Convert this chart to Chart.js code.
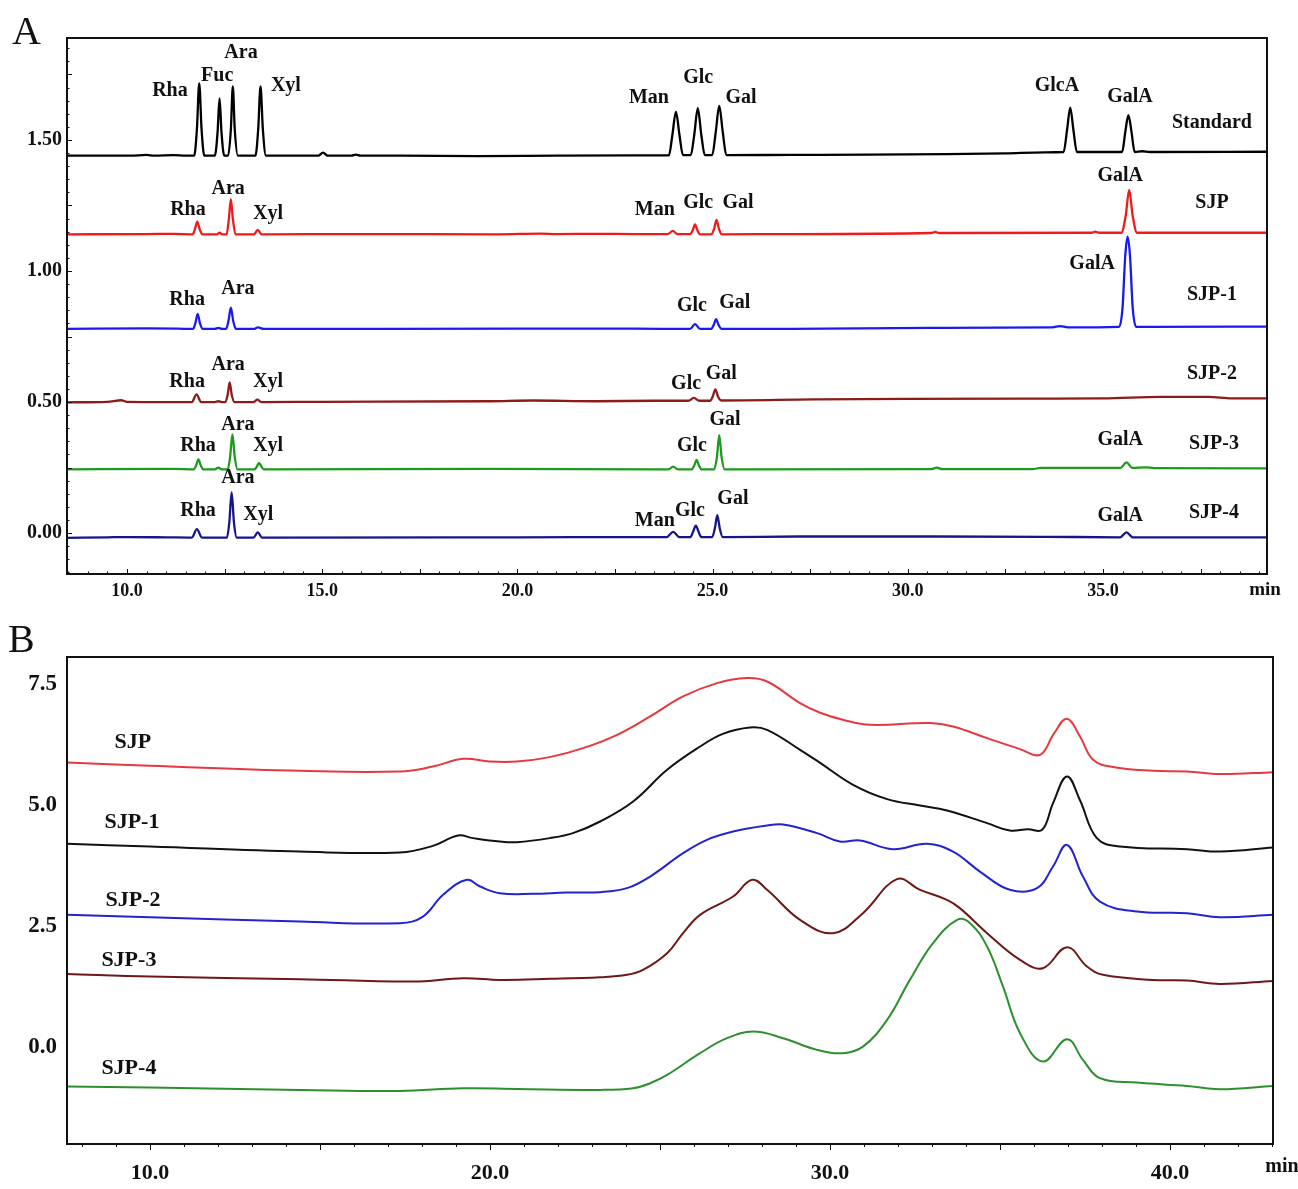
<!DOCTYPE html>
<html>
<head>
<meta charset="utf-8">
<title>Monosaccharide composition and molecular weight distribution</title>
<script src="https://cdn.jsdelivr.net/npm/chart.js@4.4.1/dist/chart.umd.min.js"></script>
<style>
  html, body { margin: 0; padding: 0; background: #ffffff; }
  #page { position: relative; width: 1298px; height: 1189px; overflow: hidden; background: #ffffff; }
  #page canvas { position: absolute; left: 0; }
  .panel-letter {
    position: absolute;
    font-family: "Liberation Serif", "Times New Roman", serif;
    font-size: 40px;
    line-height: 1;
    color: #111111;
  }
</style>
</head>
<body>
<div id="page">
  <canvas id="chartA" width="1298" height="615" style="top:0px"></canvas>
  <canvas id="chartB" width="1298" height="574" style="top:615px"></canvas>
  <div class="panel-letter" style="left:12px; top:11px;">A</div>
  <div class="panel-letter" style="left:8px; top:619px;">B</div>
</div>
<script>
const FONT = '"Liberation Serif", "Times New Roman", serif';

// ---------- Panel A: PMP-HPLC traces, [retention time (min), absorbance] ----------
const standardA = [
  [8.46,1.44],[10.1,1.44],[10.5,1.443],[10.7,1.44],[11.2,1.442],[11.5,1.44],
  [11.72,1.44],[11.79,1.54],[11.85,1.716],[11.91,1.54],[11.98,1.44],
  [12.25,1.44],[12.32,1.53],[12.37,1.659],[12.42,1.53],[12.49,1.44],
  [12.59,1.44],[12.66,1.54],[12.71,1.704],[12.76,1.54],[12.84,1.44],
  [13.29,1.44],[13.36,1.54],[13.42,1.704],[13.48,1.54],[13.56,1.44],
  [14.9,1.44],[15.02,1.452],[15.14,1.44],[15.75,1.44],[15.86,1.444],[15.97,1.44],
  [17.0,1.44],[19.0,1.438],[21.0,1.44],[23.0,1.441],
  [23.88,1.441],[23.97,1.52],[24.06,1.608],[24.15,1.52],[24.24,1.442],
  [24.44,1.442],[24.53,1.52],[24.62,1.621],[24.71,1.52],[24.8,1.442],
  [24.99,1.442],[25.08,1.53],[25.17,1.63],[25.26,1.53],[25.35,1.442],
  [27.0,1.443],[29.0,1.444],[31.0,1.446],[32.5,1.449],[33.5,1.453],
  [33.99,1.454],[34.08,1.54],[34.16,1.623],[34.24,1.54],[34.33,1.454],
  [35.49,1.454],[35.57,1.53],[35.65,1.595],[35.73,1.53],[35.81,1.454],
  [36.0,1.457],[36.2,1.454],[39.2,1.455]
];
const sjpA = [
  [8.46,1.14],[10.5,1.141],[11.2,1.142],
  [11.68,1.14],[11.74,1.16],[11.8,1.188],[11.86,1.16],[11.93,1.14],
  [12.3,1.14],[12.37,1.146],[12.44,1.14],
  [12.55,1.14],[12.61,1.2],[12.66,1.274],[12.71,1.2],[12.78,1.14],
  [13.25,1.14],[13.35,1.157],[13.45,1.14],
  [16.0,1.141],[19.5,1.14],[20.6,1.143],[21.0,1.141],[22.0,1.142],[23.0,1.141],
  [23.85,1.141],[23.98,1.153],[24.1,1.141],
  [24.42,1.141],[24.49,1.155],[24.55,1.178],[24.61,1.155],[24.68,1.14],
  [24.97,1.14],[25.04,1.162],[25.1,1.195],[25.16,1.162],[25.23,1.14],
  [27.0,1.141],[30.6,1.145],[30.7,1.149],[30.8,1.145],[34.7,1.146],[34.8,1.15],[34.9,1.146],
  [35.47,1.146],[35.58,1.21],[35.67,1.309],[35.76,1.21],[35.87,1.146],[39.2,1.146]
];
const sjp1A = [
  [8.46,0.779],[10.5,0.781],[11.3,0.78],
  [11.69,0.779],[11.75,0.8],[11.81,0.836],[11.87,0.8],[11.94,0.779],
  [12.25,0.779],[12.34,0.783],[12.43,0.779],
  [12.54,0.779],[12.6,0.81],[12.66,0.86],[12.72,0.81],[12.79,0.779],
  [13.25,0.779],[13.35,0.785],[13.5,0.779],
  [20.0,0.78],[23.0,0.78],
  [24.42,0.779],[24.55,0.797],[24.68,0.779],
  [24.96,0.779],[25.03,0.795],[25.09,0.816],[25.15,0.795],[25.23,0.779],
  [27.0,0.779],[30.5,0.783],[33.7,0.785],[33.9,0.79],[34.1,0.785],
  [35.41,0.787],[35.5,0.86],[35.57,1.06],[35.63,1.131],[35.69,1.06],[35.76,0.86],[35.85,0.787],[39.2,0.788]
];
const sjp2A = [
  [8.46,0.499],[9.5,0.501],[9.85,0.507],[10.0,0.501],[11.0,0.5],
  [11.66,0.5],[11.78,0.529],[11.9,0.5],
  [12.25,0.5],[12.34,0.503],[12.43,0.5],
  [12.52,0.5],[12.58,0.53],[12.63,0.575],[12.68,0.53],[12.75,0.5],
  [13.24,0.5],[13.34,0.509],[13.44,0.5],
  [15.0,0.501],[19.3,0.503],[20.4,0.506],[22.0,0.503],[23.5,0.505],
  [24.38,0.505],[24.52,0.516],[24.66,0.505],
  [24.94,0.505],[25.0,0.52],[25.07,0.548],[25.14,0.52],[25.22,0.506],
  [27.6,0.51],[30.0,0.512],[33.0,0.513],[35.0,0.514],[36.5,0.52],[37.7,0.52],[38.3,0.514],[39.2,0.514]
];
const sjp3A = [
  [8.46,0.243],[11.2,0.245],
  [11.71,0.243],[11.77,0.258],[11.83,0.281],[11.89,0.258],[11.96,0.243],
  [12.25,0.243],[12.34,0.25],[12.43,0.243],
  [12.58,0.243],[12.64,0.29],[12.7,0.377],[12.76,0.29],[12.83,0.243],
  [13.27,0.243],[13.33,0.255],[13.38,0.268],[13.44,0.255],[13.5,0.243],
  [19.3,0.245],[23.5,0.243],
  [23.87,0.243],[23.99,0.254],[24.11,0.243],
  [24.46,0.243],[24.53,0.258],[24.59,0.279],[24.65,0.258],[24.72,0.243],
  [25.04,0.243],[25.11,0.29],[25.17,0.374],[25.23,0.29],[25.31,0.243],
  [30.6,0.244],[30.74,0.25],[30.88,0.244],[33.2,0.244],[33.4,0.249],[35.3,0.249],
  [35.45,0.249],[35.6,0.27],[35.75,0.249],[36.1,0.251],[36.3,0.248],[39.2,0.247]
];
const sjp4A = [
  [8.46,-0.018],[9.5,-0.016],[10.0,-0.015],[11.0,-0.016],
  [11.66,-0.017],[11.79,0.015],[11.92,-0.017],
  [12.56,-0.017],[12.62,0.04],[12.68,0.155],[12.74,0.04],[12.81,-0.017],
  [13.24,-0.017],[13.35,0.003],[13.46,-0.017],
  [20.0,-0.016],[23.7,-0.015],
  [23.82,-0.015],[23.99,0.005],[24.15,-0.015],
  [24.43,-0.015],[24.5,0.005],[24.57,0.028],[24.64,0.005],[24.71,-0.015],
  [24.99,-0.015],[25.06,0.02],[25.12,0.069],[25.18,0.02],[25.26,-0.015],
  [27.2,-0.013],[30.7,-0.013],[33.5,-0.014],
  [35.44,-0.016],[35.6,0.003],[35.76,-0.016],[39.2,-0.016]
];

// Peak names and trace names, [text, time, absorbance]
const namesA = [
  ['Rha',11.10,1.687],['Fuc',12.31,1.744],['Ara',12.92,1.832],['Xyl',14.07,1.706],
  ['Man',23.37,1.660],['Glc',24.63,1.737],['Gal',25.73,1.660],
  ['GlcA',33.82,1.706],['GalA',35.69,1.664],['Standard',37.79,1.565],
  ['Rha',11.56,1.233],['Ara',12.59,1.313],['Xyl',13.61,1.218],
  ['Man',23.52,1.233],['Glc',24.63,1.260],['Gal',25.65,1.260],['GalA',35.44,1.363],['SJP',37.79,1.260],
  ['Rha',11.54,0.889],['Ara',12.84,0.931],['Glc',24.47,0.866],['Gal',25.57,0.878],
  ['GalA',34.72,1.027],['SJP-1',37.79,0.908],
  ['Rha',11.54,0.576],['Ara',12.59,0.641],['Xyl',13.61,0.576],['Glc',24.32,0.569],['Gal',25.22,0.607],
  ['SJP-2',37.79,0.607],
  ['Rha',11.82,0.332],['Ara',12.84,0.412],['Xyl',13.61,0.332],['Glc',24.47,0.332],['Gal',25.32,0.431],
  ['GalA',35.44,0.355],['SJP-3',37.84,0.340],
  ['Rha',11.82,0.084],['Ara',12.84,0.210],['Xyl',13.36,0.069],['Man',23.52,0.046],['Glc',24.42,0.084],
  ['Gal',25.52,0.130],['GalA',35.44,0.065],['SJP-4',37.84,0.076]
];

// ---------- Panel B: HPGPC traces, [elution time (min), response] ----------
const sjpB = [
  [7.56,5.886],[10,5.818],[14.41,5.714],[17.35,5.70],[18.32,5.803],[19.21,5.963],[20.0,5.907],
  [20.79,5.907],[21.76,5.998],[22.74,6.184],[23.74,6.46],[24.71,6.839],[25.68,7.253],[26.68,7.53],
  [27.56,7.634],[28.15,7.563],[29.12,7.116],[29.71,6.915],[30.38,6.77],[31.18,6.667],[32.94,6.702],
  [33.62,6.631],[34.62,6.391],[35.59,6.164],[36.18,6.046],[36.59,6.49],[36.97,6.791],[37.35,6.43],
  [37.74,5.942],[38.32,5.791],[39.5,5.714],[40.5,5.70],[41.47,5.646],[43.03,5.687]
];
const sjp1B = [
  [7.56,4.203],[10,4.147],[14.41,4.043],[17.35,4.023],[18.32,4.161],[19.06,4.375],[19.5,4.321],
  [20.29,4.251],[20.79,4.238],[21.76,4.321],[22.44,4.424],[23.24,4.665],[24.21,5.079],[25.21,5.735],
  [26.18,6.217],[26.85,6.48],[27.65,6.611],[28.15,6.563],[29.12,6.149],[29.71,5.88],[30.68,5.424],
  [31.68,5.128],[32.65,4.996],[33.44,4.892],[34.62,4.632],[35.29,4.478],[35.82,4.507],[36.24,4.493],
  [36.56,5.046],[36.97,5.596],[37.35,5.11],[37.85,4.321],[38.53,4.147],[40.5,4.093],[41.47,4.043],
  [43.03,4.126]
];
const sjp2B = [
  [7.56,2.733],[10,2.685],[14.41,2.594],[17.35,2.561],[18.03,2.698],[18.62,3.147],[19.32,3.458],
  [19.71,3.319],[20.29,3.182],[21.26,3.168],[22.26,3.195],[23.24,3.203],[24.03,3.286],[24.71,3.526],
  [25.68,4.01],[26.38,4.286],[27.15,4.458],[28.15,4.582],[28.62,4.602],[29.62,4.424],[30.29,4.251],
  [30.88,4.271],[31.85,4.093],[32.85,4.203],[33.62,4.043],[34.41,3.629],[35.29,3.251],[36.09,3.286],
  [36.56,3.733],[36.97,4.182],[37.44,3.526],[37.94,3.008],[39.03,2.801],[40.5,2.768],[41.47,2.685],
  [43.03,2.733]
];
const sjp3B = [
  [7.56,1.511],[10,1.455],[14.41,1.402],[17.74,1.352],[19.21,1.422],[20.29,1.387],[21.76,1.408],
  [23.24,1.443],[24.03,1.491],[24.5,1.594],[25.21,1.94],[25.68,2.354],[26.18,2.733],[27.15,3.112],
  [27.71,3.458],[28.15,3.251],[29.12,2.629],[30.09,2.354],[30.97,2.768],[31.97,3.472],[32.65,3.251],
  [33.44,3.043],[33.82,2.872],[34.62,2.354],[35.59,1.801],[36.26,1.629],[36.97,2.064],[37.56,1.663],
  [38.03,1.491],[39.5,1.387],[40.5,1.373],[41.47,1.304],[43.03,1.366]
];
const sjp4B = [
  [7.56,-0.822],[10,-0.843],[14.41,-0.89],[17.35,-0.911],[19.21,-0.855],[20.79,-0.87],[23.24,-0.89],
  [24.21,-0.855],[24.71,-0.752],[25.21,-0.58],[26.18,-0.13],[26.97,0.18],[27.74,0.317],[28.62,0.18],
  [29.62,-0.062],[30.38,-0.13],[30.97,0.006],[31.68,0.559],[32.35,1.387],[33.03,2.147],[33.74,2.629],
  [34.12,2.561],[34.62,2.077],[35.09,1.248],[35.59,0.284],[36.26,-0.304],[36.97,0.159],[37.44,-0.269],
  [37.94,-0.648],[39.03,-0.739],[40.5,-0.807],[41.47,-0.876],[43.03,-0.807]
];
const namesB = [
  ['SJP',9.50,6.294],['SJP-1',9.47,4.638],['SJP-2',9.50,3.043],['SJP-3',9.38,1.801],['SJP-4',9.38,-0.435]
];

// ---------- Drawing helpers ----------
function stepValues(min, max, step) {
  const out = [];
  for (let i = Math.ceil(min / step - 1e-9); i * step <= max + 1e-9; i++) out.push(i * step);
  return out;
}

// Box frame around the plot area plus small axis tick marks
const framePlugin = {
  id: 'frame',
  afterDraw(chart, args, opts) {
    const { ctx, chartArea: a, scales } = chart;
    ctx.save();
    ctx.strokeStyle = '#111111';
    ctx.lineWidth = 1;
    (opts.xTicks || []).forEach(spec => {
      stepValues(scales.x.min, scales.x.max, spec.step).forEach(v => {
        const px = Math.round(scales.x.getPixelForValue(v)) + 0.5;
        ctx.beginPath();
        ctx.moveTo(px, a.bottom);
        ctx.lineTo(px, a.bottom + spec.len * (opts.inward ? -1 : 1));
        ctx.stroke();
      });
    });
    (opts.yTicks || []).forEach(spec => {
      stepValues(scales.y.min, scales.y.max, spec.step).forEach(v => {
        const py = Math.round(scales.y.getPixelForValue(v)) + 0.5;
        ctx.beginPath();
        ctx.moveTo(a.left, py);
        ctx.lineTo(a.left + spec.len * (opts.inward ? 1 : -1), py);
        ctx.stroke();
      });
    });
    ctx.lineWidth = 2;
    ctx.strokeRect(a.left, a.top, a.right - a.left, a.bottom - a.top);
    // unit label at the right end of the time axis
    ctx.fillStyle = '#111111';
    ctx.font = opts.unitFont;
    ctx.textAlign = 'center';
    ctx.textBaseline = 'middle';
    ctx.fillText('min', a.right + opts.unitDx, a.bottom + opts.unitDy);
    ctx.restore();
  }
};

// Peak and trace names placed in data coordinates
const namePlugin = {
  id: 'names',
  afterDatasetsDraw(chart, args, opts) {
    const { ctx, scales } = chart;
    ctx.save();
    ctx.fillStyle = '#111111';
    ctx.font = opts.font;
    ctx.textAlign = 'center';
    ctx.textBaseline = 'middle';
    opts.items.forEach(([text, t, v]) => {
      ctx.fillText(text, scales.x.getPixelForValue(t), scales.y.getPixelForValue(v));
    });
    ctx.restore();
  }
};

// Narrow HPLC peaks keep a monotone curve; the broad GPC profiles use a smoother bezier
function traceSet(label, pts, color, width, smooth) {
  const ds = {
    label,
    data: pts.map(([x, y]) => ({ x, y })),
    borderColor: color,
    borderWidth: width,
    pointRadius: 0,
    fill: false
  };
  if (smooth) {
    ds.tension = 0.4;
  } else {
    ds.cubicInterpolationMode = 'monotone';
  }
  return ds;
}

function tickFont(size) {
  return { family: FONT, size, weight: 'bold' };
}

// ---------- Panel A ----------
new Chart(document.getElementById('chartA'), {
  type: 'line',
  data: {
    datasets: [
      traceSet('Standard', standardA, '#000000', 2.3, false),
      traceSet('SJP', sjpA, '#f01a1a', 2.3, false),
      traceSet('SJP-1', sjp1A, '#1a1af0', 2.3, false),
      traceSet('SJP-2', sjp2A, '#8e1a1a', 2.3, false),
      traceSet('SJP-3', sjp3A, '#1e9a1e', 2.3, false),
      traceSet('SJP-4', sjp4A, '#16168a', 2.3, false)
    ]
  },
  options: {
    responsive: false,
    animation: false,
    events: [],
    layout: { padding: { top: 38, right: 31, left: 0, bottom: 0 } },
    plugins: {
      legend: { display: false },
      tooltip: { enabled: false },
      frame: {
        inward: true,
        xTicks: [{ step: 2.5, len: 5 }, { step: 0.5, len: 2.5 }],
        yTicks: [{ step: 0.25, len: 5 }, { step: 0.05, len: 2.5 }],
        unitFont: 'bold 19px ' + FONT, unitDx: -2, unitDy: 16
      },
      names: { font: 'bold 20px ' + FONT, items: namesA }
    },
    scales: {
      x: {
        type: 'linear', min: 8.463, max: 39.2,
        grid: { display: false, drawTicks: false },
        border: { display: false },
        ticks: {
          stepSize: 5, includeBounds: false, maxRotation: 0, padding: 7,
          color: '#111111', font: tickFont(18),
          callback: v => v.toFixed(1)
        },
        afterFit(s) { s.height = 41; }
      },
      y: {
        type: 'linear', min: -0.156, max: 1.889,
        grid: { display: false, drawTicks: false },
        border: { display: false },
        ticks: {
          stepSize: 0.5, includeBounds: false, padding: 5,
          color: '#111111', font: tickFont(20),
          callback: v => v.toFixed(2)
        },
        afterFit(s) { s.width = 67; }
      }
    }
  },
  plugins: [framePlugin, namePlugin]
});

// ---------- Panel B ----------
new Chart(document.getElementById('chartB'), {
  type: 'line',
  data: {
    datasets: [
      traceSet('SJP', sjpB, '#e43a3f', 2, true),
      traceSet('SJP-1', sjp1B, '#111111', 2, true),
      traceSet('SJP-2', sjp2B, '#2323d0', 2, true),
      traceSet('SJP-3', sjp3B, '#6e1818', 2, true),
      traceSet('SJP-4', sjp4B, '#2e8f2e', 2, true)
    ]
  },
  options: {
    responsive: false,
    animation: false,
    events: [],
    layout: { padding: { top: 42, right: 25, left: 0, bottom: 0 } },
    plugins: {
      legend: { display: false },
      tooltip: { enabled: false },
      frame: {
        inward: false,
        xTicks: [{ step: 5, len: 6 }, { step: 1, len: 3 }],
        yTicks: [],
        unitFont: 'bold 20px ' + FONT, unitDx: 9, unitDy: 23
      },
      names: { font: 'bold 22px ' + FONT, items: namesB }
    },
    scales: {
      x: {
        type: 'linear', min: 7.56, max: 43.03,
        grid: { display: false, drawTicks: false },
        border: { display: false },
        ticks: {
          stepSize: 10, includeBounds: false, maxRotation: 0, padding: 16,
          color: '#111111', font: tickFont(22),
          callback: v => v.toFixed(1)
        },
        afterFit(s) { s.height = 45; }
      },
      y: {
        type: 'linear', min: -2.01, max: 8.07,
        grid: { display: false, drawTicks: false },
        border: { display: false },
        ticks: {
          stepSize: 2.5, includeBounds: false, padding: 10,
          color: '#111111', font: tickFont(23),
          callback: v => v.toFixed(1)
        },
        afterFit(s) { s.width = 67; }
      }
    }
  },
  plugins: [framePlugin, namePlugin]
});
</script>
</body>
</html>
